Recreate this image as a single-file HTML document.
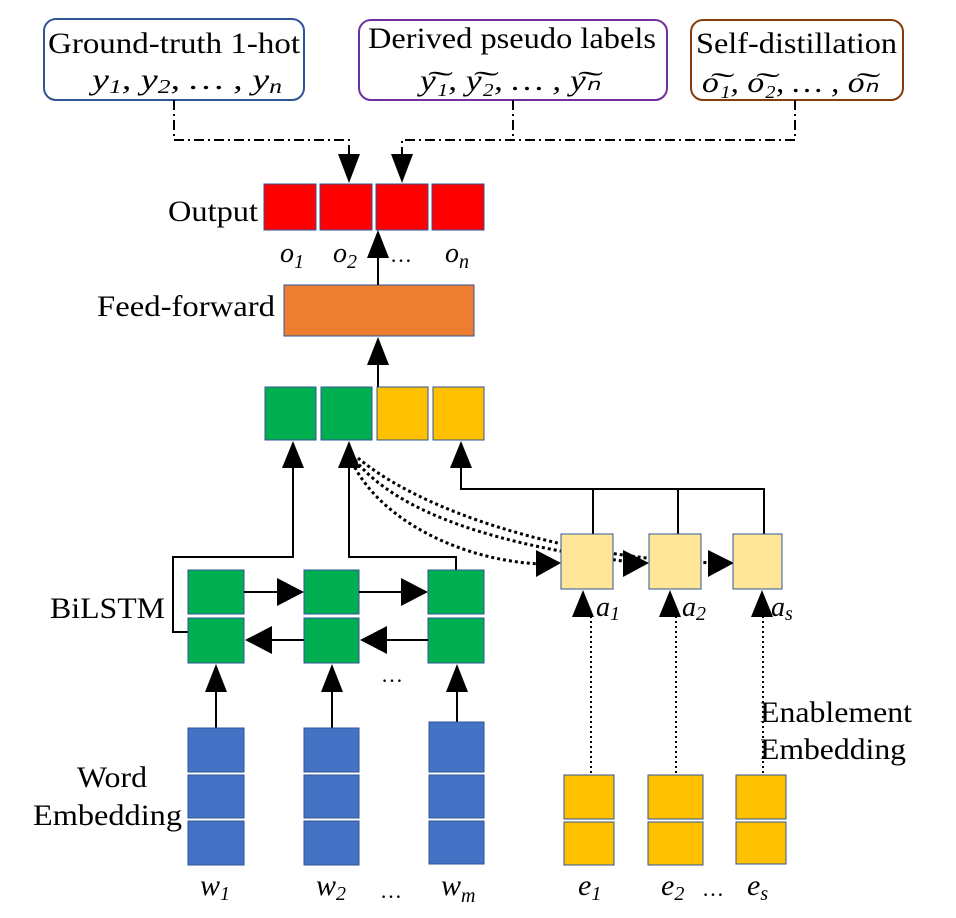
<!DOCTYPE html>
<html><head><meta charset="utf-8"><style>
html,body{margin:0;padding:0;background:#fff;}
svg{display:block;}
text{font-family:"Liberation Serif",serif;fill:#000;}
.m{font-style:italic;}
</style></head><body>
<svg width="956" height="918" viewBox="0 0 956 918" xmlns="http://www.w3.org/2000/svg">
<!-- top boxes -->
<rect x="44" y="19" width="260" height="81" rx="12" fill="#fff" stroke="#2F5597" stroke-width="2"/>
<rect x="359" y="20" width="308" height="80" rx="12" fill="#fff" stroke="#7030A0" stroke-width="2"/>
<rect x="691" y="20" width="212" height="80" rx="12" fill="#fff" stroke="#843C0C" stroke-width="2"/>
<text x="48" y="53" font-size="30" textLength="252" lengthAdjust="spacingAndGlyphs">Ground-truth 1-hot</text>
<text x="92" y="89" font-size="30" class="m" textLength="190" lengthAdjust="spacingAndGlyphs">y<tspan font-size="20" dy="4">1</tspan><tspan dy="-4">, y</tspan><tspan font-size="20" dy="4">2</tspan><tspan dy="-4">, … , y</tspan><tspan font-size="20" dy="4">n</tspan></text>
<text x="368" y="48" font-size="30" textLength="288" lengthAdjust="spacingAndGlyphs">Derived pseudo labels</text>
<text x="420" y="90" font-size="30" class="m" textLength="180" lengthAdjust="spacingAndGlyphs">y͠₁, y͠₂, … , y͠ₙ</text>
<text x="696" y="53" font-size="30" textLength="201" lengthAdjust="spacingAndGlyphs">Self-distillation</text>
<text x="702" y="92" font-size="30" class="m" textLength="176" lengthAdjust="spacingAndGlyphs">o͠₁, o͠₂, … , o͠ₙ</text>
<!-- dash-dot connectors -->
<g fill="none" stroke="#000" stroke-width="2" stroke-dasharray="10,4,2,4">
<path d="M174 100 V140 H349 V160"/>
<path d="M513 100 V140"/>
<path d="M795 100 V140 H402 V160"/>
</g>
<polygon points="338,154 360,154 349,183" fill="#000"/>
<polygon points="391,154 413,154 402,183" fill="#000"/>
<!-- output -->
<g stroke="#2F5597" stroke-width="1">
<rect x="264" y="184" width="52" height="46" fill="#FF0000"/>
<rect x="320" y="184" width="52" height="46" fill="#FF0000"/>
<rect x="376" y="184" width="52" height="46" fill="#FF0000"/>
<rect x="432" y="184" width="52" height="46" fill="#FF0000"/>
</g>
<text x="168" y="221" font-size="30" textLength="90" lengthAdjust="spacingAndGlyphs">Output</text>
<text x="280" y="262" font-size="28" class="m">o<tspan font-size="20" dy="6">1</tspan></text>
<text x="333" y="262" font-size="28" class="m">o<tspan font-size="20" dy="6">2</tspan></text>
<text x="390" y="262" font-size="22">…</text>
<text x="445" y="262" font-size="28" class="m">o<tspan font-size="20" dy="6">n</tspan></text>
<!-- feed forward -->
<rect x="284" y="285" width="190" height="51" fill="#ED7D31" stroke="#2F5597" stroke-width="1"/>
<text x="97" y="316" font-size="30" textLength="178" lengthAdjust="spacingAndGlyphs">Feed-forward</text>
<line x1="378" y1="285" x2="378" y2="250" stroke="#000" stroke-width="2"/>
<polygon points="367,258 389,258 378,230" fill="#000"/>
<line x1="378" y1="387" x2="378" y2="355" stroke="#000" stroke-width="2"/>
<polygon points="367,365 389,365 378,337" fill="#000"/>
<!-- concat row -->
<g stroke="#2F5597" stroke-width="1">
<rect x="265" y="387" width="51" height="53" fill="#00B050"/>
<rect x="321" y="387" width="51" height="53" fill="#00B050"/>
<rect x="377" y="387" width="51" height="53" fill="#FFC000"/>
<rect x="433" y="387" width="51" height="53" fill="#FFC000"/>
</g>
<g fill="none" stroke="#000" stroke-width="2">
<path d="M293 460 V557 H173 V632 H188"/>
<path d="M349 460 V557 H456 V570"/>
<path d="M461 460 V489 H764 V537"/>
<path d="M593 489 V535"/>
<path d="M678 489 V535"/>
</g>
<polygon points="282,468 304,468 293,441" fill="#000"/>
<polygon points="338,468 360,468 349,441" fill="#000"/>
<polygon points="450,468 472,468 461,441" fill="#000"/>
<!-- dotted curves -->
<g fill="none" stroke="#000" stroke-width="3" stroke-dasharray="3,3">
<path d="M352 462 C380 520, 460 560, 540 564"/>
<path d="M355 460 C400 515, 500 545, 630 562"/>
<path d="M358 458 C420 510, 560 558, 715 563"/>
</g>
<polygon points="536,550 536,577 561,563" fill="#000"/>
<polygon points="623,550 623,577 649,563" fill="#000"/>
<polygon points="708,550 708,577 734,563" fill="#000"/>
<!-- light yellow boxes -->
<g stroke="#2F5597" stroke-width="1" fill="#FFE699">
<rect x="561" y="534" width="52" height="55"/>
<rect x="649" y="534" width="52" height="55"/>
<rect x="733" y="534" width="49" height="55"/>
</g>
<polygon points="572,617 594,617 583,590" fill="#000"/>
<polygon points="659,617 681,617 670,590" fill="#000"/>
<polygon points="751,617 773,617 762,590" fill="#000"/>
<text x="596" y="616" font-size="28" class="m">a<tspan font-size="20" dy="4">1</tspan></text>
<text x="682" y="616" font-size="28" class="m">a<tspan font-size="20" dy="4">2</tspan></text>
<text x="771" y="616" font-size="28" class="m">a<tspan font-size="20" dy="4">s</tspan></text>
<g stroke="#000" stroke-width="2" stroke-dasharray="2,3">
<line x1="591" y1="616" x2="591" y2="774"/>
<line x1="676" y1="616" x2="676" y2="774"/>
<line x1="763" y1="616" x2="763" y2="774"/>
</g>
<!-- BiLSTM -->
<g stroke="#2F5597" stroke-width="1" fill="#00B050">
<rect x="188" y="570" width="56" height="44"/>
<rect x="304" y="570" width="55" height="44"/>
<rect x="428" y="570" width="56" height="44"/>
<rect x="188" y="618" width="56" height="45"/>
<rect x="304" y="618" width="55" height="45"/>
<rect x="428" y="618" width="56" height="45"/>
</g>
<g stroke="#000" stroke-width="2">
<line x1="244" y1="592" x2="285" y2="592"/>
<line x1="359" y1="592" x2="410" y2="592"/>
<line x1="270" y1="640" x2="304" y2="640"/>
<line x1="386" y1="640" x2="428" y2="640"/>
</g>
<polygon points="277,578 277,606 304,592" fill="#000"/>
<polygon points="401,578 401,606 428,592" fill="#000"/>
<polygon points="272,626 272,654 245,640" fill="#000"/>
<polygon points="387,626 387,654 360,640" fill="#000"/>
<text x="50" y="618" font-size="30" textLength="115" lengthAdjust="spacingAndGlyphs">BiLSTM</text>
<text x="392" y="682" font-size="22" text-anchor="middle">…</text>
<!-- word embeddings -->
<g stroke="#000" stroke-width="2">
<line x1="216" y1="728" x2="216" y2="685"/>
<line x1="332" y1="728" x2="332" y2="685"/>
<line x1="457" y1="722" x2="457" y2="685"/>
</g>
<polygon points="205,692 227,692 216,664" fill="#000"/>
<polygon points="321,692 343,692 332,664" fill="#000"/>
<polygon points="446,692 468,692 457,664" fill="#000"/>
<g stroke="#2F5597" stroke-width="1" fill="#4472C4">
<rect x="188" y="728" width="56" height="44"/>
<rect x="188" y="775" width="56" height="43"/>
<rect x="188" y="821" width="56" height="44"/>
<rect x="304" y="728" width="55" height="44"/>
<rect x="304" y="775" width="55" height="43"/>
<rect x="304" y="821" width="55" height="44"/>
<rect x="429" y="722" width="55" height="50"/>
<rect x="429" y="775" width="55" height="43"/>
<rect x="429" y="821" width="55" height="43"/>
</g>
<text x="77" y="787" font-size="30" textLength="70" lengthAdjust="spacingAndGlyphs">Word</text>
<text x="33" y="825" font-size="30" textLength="149" lengthAdjust="spacingAndGlyphs">Embedding</text>
<text x="200" y="895" font-size="30" class="m">w<tspan font-size="20" dy="5">1</tspan></text>
<text x="316" y="895" font-size="30" class="m">w<tspan font-size="20" dy="5">2</tspan></text>
<text x="391" y="898" font-size="22" text-anchor="middle">…</text>
<text x="441" y="895" font-size="30" class="m">w<tspan font-size="20" dy="7">m</tspan></text>
<!-- enablement embeddings -->
<g stroke="#2F5597" stroke-width="1" fill="#FFC000">
<rect x="564" y="775" width="50" height="44"/>
<rect x="564" y="822" width="50" height="43"/>
<rect x="648" y="775" width="55" height="44"/>
<rect x="648" y="822" width="55" height="43"/>
<rect x="736" y="775" width="50" height="44"/>
<rect x="736" y="822" width="50" height="42"/>
</g>
<text x="760" y="722" font-size="30" textLength="152" lengthAdjust="spacingAndGlyphs">Enablement</text>
<text x="760" y="759" font-size="30" textLength="146" lengthAdjust="spacingAndGlyphs">Embedding</text>
<text x="578" y="895" font-size="30" class="m">e<tspan font-size="20" dy="5">1</tspan></text>
<text x="661" y="895" font-size="30" class="m">e<tspan font-size="20" dy="5">2</tspan></text>
<text x="713" y="896" font-size="22" text-anchor="middle">…</text>
<text x="747" y="895" font-size="30" class="m">e<tspan font-size="20" dy="5">s</tspan></text>
</svg>
</body></html>
